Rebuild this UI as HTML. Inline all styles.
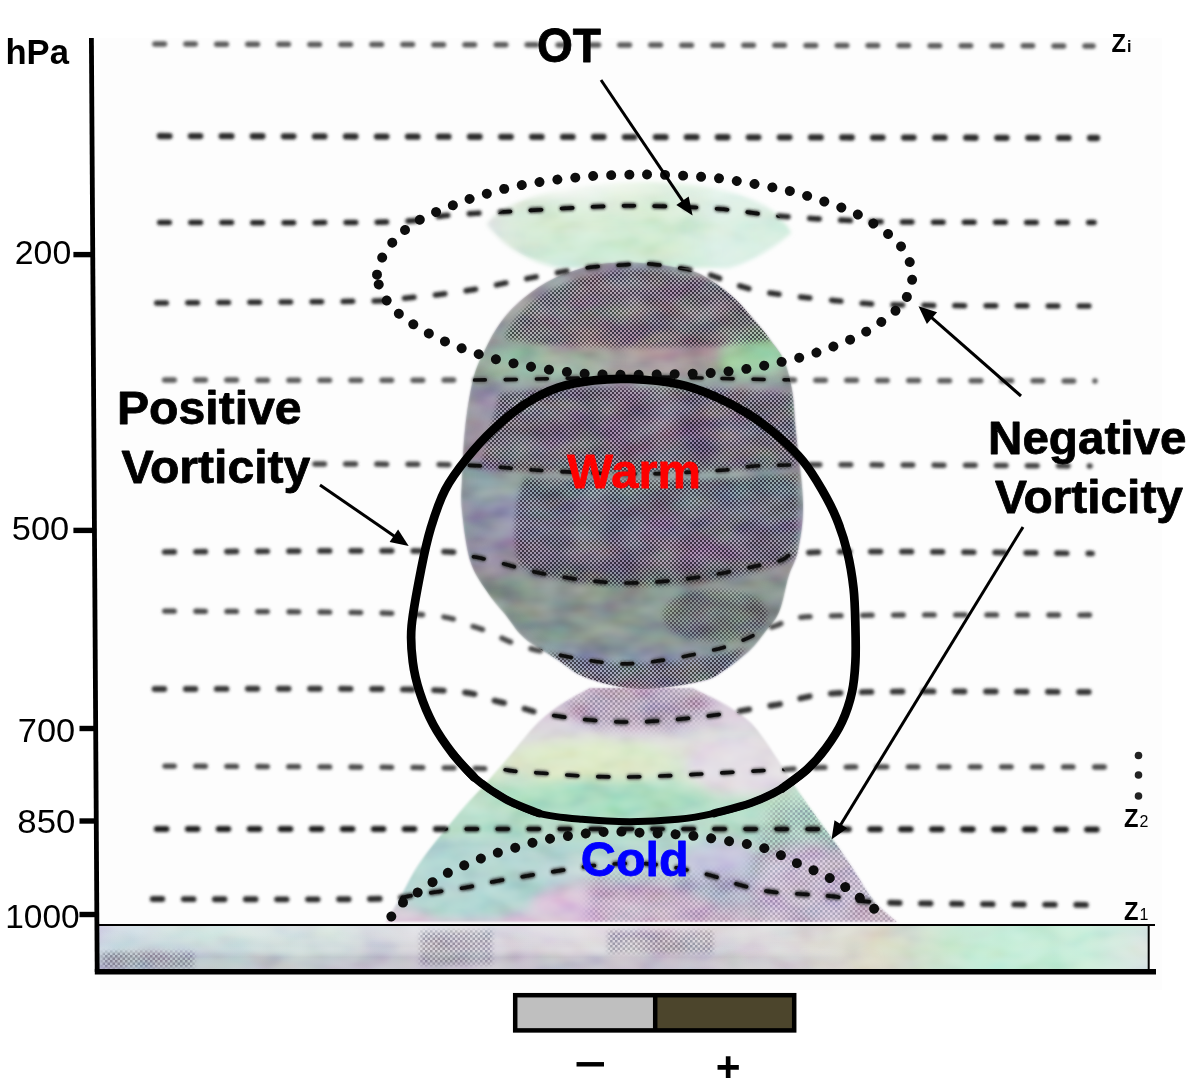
<!DOCTYPE html>
<html lang="en"><head><meta charset="utf-8"><title>Schematic vertical cross-section: vorticity, warm and cold core</title>
<style>
html,body{margin:0;padding:0;background:#fff;}
body{width:1198px;height:1083px;overflow:hidden;font-family:"Liberation Sans",sans-serif;}
svg{display:block;}
</style></head><body>
<svg width="1198" height="1083" viewBox="0 0 1198 1083">
<defs>
<filter id="bl" x="-5%" y="-300%" width="110%" height="700%"><feGaussianBlur stdDeviation="1.35"/></filter>
<filter id="bl2" x="-10%" y="-10%" width="120%" height="120%"><feGaussianBlur stdDeviation="2.2"/></filter>
<filter id="bl3" x="-20%" y="-20%" width="140%" height="140%"><feGaussianBlur stdDeviation="6"/></filter>
<filter id="bl1" x="-10%" y="-10%" width="120%" height="120%"><feGaussianBlur stdDeviation="1.2"/></filter>
<filter id="bl04" x="-10%" y="-10%" width="120%" height="120%"><feGaussianBlur stdDeviation="0.45"/></filter>
<filter id="noise" x="0" y="0" width="100%" height="100%" color-interpolation-filters="sRGB">
 <feTurbulence type="fractalNoise" baseFrequency="0.028 0.05" numOctaves="2" seed="11" result="t"/>
 <feColorMatrix in="t" type="saturate" values="0.35" result="ds"/>
 <feColorMatrix in="ds" type="matrix" values="1.9 0 0 0 -0.45  0 1.9 0 0 -0.45  0 0 1.9 0 -0.45  0 0 0 0 1" result="c"/>
 <feComposite in="c" in2="SourceGraphic" operator="in"/>
</filter>
<filter id="bl05" x="-10%" y="-10%" width="120%" height="120%"><feGaussianBlur stdDeviation="0.6"/></filter>
<pattern id="dith" width="4" height="4" patternUnits="userSpaceOnUse">
 <rect x="0" y="0" width="2" height="2" fill="#120f1c" fill-opacity=".66"/>
 <rect x="2" y="2" width="2" height="2" fill="#120f1c" fill-opacity=".66"/>
 <rect x="2" y="0" width="2" height="2" fill="#fff" fill-opacity=".10"/>
 <rect x="0" y="2" width="2" height="2" fill="#fff" fill-opacity=".10"/>
</pattern>
<pattern id="dithL" width="5" height="5" patternUnits="userSpaceOnUse">
 <rect x="0" y="0" width="2.5" height="2.5" fill="#2c2640" fill-opacity=".34"/>
 <rect x="2.5" y="2.5" width="2.5" height="2.5" fill="#2c2640" fill-opacity=".34"/>
</pattern>
<mask id="htMask" maskUnits="userSpaceOnUse" x="440" y="250" width="400" height="460">
 <rect x="440" y="250" width="400" height="460" fill="#000"/>
 <g filter="url(#bl2)">
  <path d="M505,338 C520,296 580,270 640,270 C700,270 758,294 776,338 C740,350 545,350 505,338 Z" fill="#fff"/>
  <path d="M500,394 C560,386 720,386 792,394 L797,466 C740,474 540,474 480,468 Z" fill="#fff"/>
  <path d="M525,478 C580,482 720,482 797,474 L797,556 C760,576 700,586 625,586 C580,584 545,578 520,566 C512,540 514,500 525,478 Z" fill="#fff"/>
  <path d="M548,652 C600,668 680,668 745,648 L722,678 C680,692 600,692 572,678 Z" fill="#fff"/>
  <ellipse cx="715" cy="615" rx="52" ry="26" fill="#bbb"/>
 </g>
</mask>
<mask id="coneMask" maskUnits="userSpaceOnUse" x="370" y="680" width="540" height="250">
 <rect x="370" y="680" width="540" height="250" fill="#000"/>
 <g filter="url(#bl3)">
  <ellipse cx="640" cy="706" rx="70" ry="20" fill="#fff"/>
  <path d="M775,800 L905,800 L905,925 L745,925 L745,880 Z" fill="#ccc"/>
  <rect x="590" y="876" width="150" height="48" fill="#bbb"/>
 </g>
</mask>
<linearGradient id="gvFade" x1="0" y1="0" x2="1" y2="0">
 <stop offset="0" stop-color="#fff"/><stop offset=".55" stop-color="#fff"/><stop offset=".75" stop-color="#000"/><stop offset="1" stop-color="#000"/>
</linearGradient>
<mask id="gvMask" maskUnits="userSpaceOnUse" x="90" y="920" width="1070" height="55"><rect x="97" y="920" width="1052" height="55" fill="url(#gvFade)"/></mask>
<mask id="groundMask" maskUnits="userSpaceOnUse" x="90" y="920" width="1070" height="55">
 <rect x="90" y="920" width="1070" height="55" fill="#000"/>
 <g filter="url(#bl2)">
  <rect x="102" y="952" width="92" height="16" fill="#fff"/>
  <rect x="420" y="931" width="72" height="34" fill="#fff"/>
  <rect x="608" y="931" width="105" height="22" fill="#fff"/>
 </g>
</mask>
<linearGradient id="bodyG" gradientUnits="userSpaceOnUse" x1="0" y1="263" x2="0" y2="689">
 <stop offset="0" stop-color="#a39fad"/>
 <stop offset=".10" stop-color="#a697a6"/>
 <stop offset=".17" stop-color="#a3a3a6"/>
 <stop offset=".21" stop-color="#94ad9e"/>
 <stop offset=".27" stop-color="#97aba2"/>
 <stop offset=".31" stop-color="#9b96a6"/>
 <stop offset=".45" stop-color="#9c93a5"/>
 <stop offset=".50" stop-color="#8f9fa0"/>
 <stop offset=".58" stop-color="#9094ab"/>
 <stop offset=".70" stop-color="#9a8ea5"/>
 <stop offset=".75" stop-color="#88928e"/>
 <stop offset=".88" stop-color="#8a9893"/>
 <stop offset=".94" stop-color="#8e96b0"/>
 <stop offset="1" stop-color="#b39fb8"/>
</linearGradient>
<linearGradient id="coneG" gradientUnits="userSpaceOnUse" x1="0" y1="688" x2="0" y2="922">
 <stop offset="0" stop-color="#cdbdd0"/>
 <stop offset=".14" stop-color="#dcd2de"/>
 <stop offset=".24" stop-color="#dcdfdb"/>
 <stop offset=".34" stop-color="#d6e6cd"/>
 <stop offset=".48" stop-color="#bfe0cb"/>
 <stop offset=".60" stop-color="#b5dccb"/>
 <stop offset=".72" stop-color="#bcd7d3"/>
 <stop offset=".90" stop-color="#c4cbd8"/>
 <stop offset="1" stop-color="#dcc4d6"/>
</linearGradient>
<linearGradient id="lensG" gradientUnits="userSpaceOnUse" x1="0" y1="178" x2="0" y2="272">
 <stop offset="0" stop-color="#f2f5f2" stop-opacity="0"/>
 <stop offset=".25" stop-color="#e0ede0" stop-opacity=".9"/>
 <stop offset=".5" stop-color="#d3ead2"/>
 <stop offset=".8" stop-color="#d2ebda"/>
 <stop offset="1" stop-color="#cde8df"/>
</linearGradient>
<linearGradient id="lensH" x1="0" y1="0" x2="1" y2="0">
 <stop offset="0" stop-color="#dfe3e4" stop-opacity=".9"/>
 <stop offset=".25" stop-color="#d6ecd0" stop-opacity=".0"/>
 <stop offset=".55" stop-color="#cfeacc" stop-opacity=".5"/>
 <stop offset=".75" stop-color="#dff1ea" stop-opacity=".7"/>
 <stop offset="1" stop-color="#d3ede4" stop-opacity=".6"/>
</linearGradient>
<linearGradient id="groundG" x1="0" y1="0" x2="1" y2="0">
 <stop offset="0" stop-color="#c9d2e0"/>
 <stop offset=".10" stop-color="#cbdfdc"/>
 <stop offset=".22" stop-color="#d2dedd"/>
 <stop offset=".32" stop-color="#d6d2dc"/>
 <stop offset=".45" stop-color="#dad6dd"/>
 <stop offset=".55" stop-color="#d8cfd9"/>
 <stop offset=".66" stop-color="#dbdada"/>
 <stop offset=".74" stop-color="#dcd9c9"/>
 <stop offset=".84" stop-color="#c4ecd7"/>
 <stop offset=".94" stop-color="#c9edda"/>
 <stop offset="1" stop-color="#dbe4e2"/>
</linearGradient>
<linearGradient id="groundV" x1="0" y1="0" x2="0" y2="1">
 <stop offset="0" stop-color="#fff" stop-opacity=".25"/>
 <stop offset=".45" stop-color="#fff" stop-opacity="0"/>
 <stop offset=".7" stop-color="#9c98a8" stop-opacity=".30"/>
 <stop offset="1" stop-color="#b4b0c0" stop-opacity=".45"/>
</linearGradient>
<clipPath id="bodyClip"><path d="M640.0,263.0 C655.3,263.8 676.0,267.0 688.0,270.0 C700.0,273.0 704.2,276.2 712.0,281.0 C719.8,285.8 727.8,292.3 735.0,299.0 C742.2,305.7 749.0,314.0 755.0,321.0 C761.0,328.0 766.2,334.3 771.0,341.0 C775.8,347.7 780.5,352.8 784.0,361.0 C787.5,369.2 790.0,378.2 792.0,390.0 C794.0,401.8 794.2,413.0 796.0,432.0 C797.8,451.0 802.7,484.3 803.0,504.0 C803.3,523.7 800.4,538.0 798.0,550.0 C795.6,562.0 791.7,565.7 788.5,576.0 C785.3,586.3 782.9,602.7 779.0,612.0 C775.1,621.3 769.8,625.7 765.0,632.0 C760.2,638.3 756.5,643.8 750.0,650.0 C743.5,656.2 734.0,663.8 726.0,669.0 C718.0,674.2 716.3,677.7 702.0,681.0 C687.7,684.3 659.2,689.5 640.0,689.0 C620.8,688.5 600.7,682.8 587.0,678.0 C573.3,673.2 568.4,666.7 558.0,660.0 C547.6,653.3 533.3,645.7 524.5,638.0 C515.7,630.3 511.4,622.0 505.0,614.0 C498.6,606.0 491.8,599.0 486.0,590.0 C480.2,581.0 474.0,573.3 470.0,560.0 C466.0,546.7 463.3,523.3 462.0,510.0 C460.7,496.7 461.5,493.3 462.0,480.0 C462.5,466.7 463.2,446.7 465.0,430.0 C466.8,413.3 469.7,393.3 473.0,380.0 C476.3,366.7 480.3,359.7 485.0,350.0 C489.7,340.3 494.5,330.7 501.0,322.0 C507.5,313.3 515.0,305.3 524.0,298.0 C533.0,290.7 543.0,283.5 555.0,278.0 C567.0,272.5 581.8,267.5 596.0,265.0 C610.2,262.5 624.7,262.2 640.0,263.0Z"/></clipPath>
<clipPath id="coneClip"><path d="M590.0,688.0 C585.0,690.8 569.0,698.9 560.0,705.0 C551.0,711.1 544.0,716.5 536.0,724.5 C528.0,732.5 520.2,743.4 512.0,753.0 C503.8,762.6 494.8,773.2 487.0,782.0 C479.2,790.8 472.0,798.0 465.0,806.0 C458.0,814.0 451.0,822.7 445.0,830.0 C439.0,837.3 434.2,843.0 429.0,850.0 C423.8,857.0 418.8,864.0 414.0,872.0 C409.2,880.0 404.7,889.7 400.0,898.0 C395.3,906.3 388.3,918.0 386.0,922.0 L897.0,922.0 C893.2,918.5 881.0,909.3 874.0,901.0 C867.0,892.7 860.8,880.8 855.0,872.0 C849.2,863.2 844.3,855.7 839.0,848.0 C833.7,840.3 829.0,834.3 823.0,826.0 C817.0,817.7 809.7,807.7 803.0,798.0 C796.3,788.3 789.2,777.3 783.0,768.0 C776.8,758.7 771.5,749.7 766.0,742.0 C760.5,734.3 756.7,728.2 750.0,722.0 C743.3,715.8 735.7,710.7 726.0,705.0 C716.3,699.3 697.7,690.8 692.0,688.0 Z"/></clipPath>
</defs>
<rect width="1198" height="1083" fill="#fff"/>
<rect x="100" y="38" width="1062" height="952" fill="#fdfdfd"/>
<rect x="97" y="926" width="1052" height="44" fill="url(#groundG)"/>
<rect x="97" y="926" width="1052" height="44" fill="url(#groundV)" mask="url(#gvMask)"/>
<rect x="97" y="926" width="1052" height="44" fill="url(#dithL)" mask="url(#groundMask)"/>
<g filter="url(#bl1)">
<path d="M590.0,688.0 C585.0,690.8 569.0,698.9 560.0,705.0 C551.0,711.1 544.0,716.5 536.0,724.5 C528.0,732.5 520.2,743.4 512.0,753.0 C503.8,762.6 494.8,773.2 487.0,782.0 C479.2,790.8 472.0,798.0 465.0,806.0 C458.0,814.0 451.0,822.7 445.0,830.0 C439.0,837.3 434.2,843.0 429.0,850.0 C423.8,857.0 418.8,864.0 414.0,872.0 C409.2,880.0 404.7,889.7 400.0,898.0 C395.3,906.3 388.3,918.0 386.0,922.0 L897.0,922.0 C893.2,918.5 881.0,909.3 874.0,901.0 C867.0,892.7 860.8,880.8 855.0,872.0 C849.2,863.2 844.3,855.7 839.0,848.0 C833.7,840.3 829.0,834.3 823.0,826.0 C817.0,817.7 809.7,807.7 803.0,798.0 C796.3,788.3 789.2,777.3 783.0,768.0 C776.8,758.7 771.5,749.7 766.0,742.0 C760.5,734.3 756.7,728.2 750.0,722.0 C743.3,715.8 735.7,710.7 726.0,705.0 C716.3,699.3 697.7,690.8 692.0,688.0 Z" fill="url(#coneG)"/>
<g clip-path="url(#coneClip)">
<ellipse cx="640" cy="708" rx="85" ry="24" fill="#d2c2d6" filter="url(#bl3)"/>
<ellipse cx="590" cy="762" rx="80" ry="22" fill="#dde9c9" filter="url(#bl3)"/>
<ellipse cx="745" cy="765" rx="60" ry="30" fill="#e3dde4" filter="url(#bl3)"/>
<ellipse cx="600" cy="800" rx="110" ry="18" fill="#a9dcc0" filter="url(#bl3)"/>
<ellipse cx="470" cy="880" rx="80" ry="40" fill="#b3d6d2" filter="url(#bl3)"/>
<ellipse cx="620" cy="905" rx="90" ry="22" fill="#dcc4da" filter="url(#bl3)"/>
<ellipse cx="810" cy="885" rx="60" ry="42" fill="#dccde2" filter="url(#bl3)"/>
<ellipse cx="720" cy="870" rx="40" ry="30" fill="#c4c4dc" filter="url(#bl3)"/>
</g></g>
<g clip-path="url(#coneClip)">
<rect x="370" y="680" width="540" height="250" fill="url(#dithL)" mask="url(#coneMask)"/>
</g>
<g filter="url(#bl2)"><path d="M487,224 C505,200 560,184 640,182 C715,182 775,198 791,233 C770,250 750,262 728,268 L560,268 C530,262 505,248 487,224 Z" fill="url(#lensG)"/><path d="M487,224 C505,200 560,184 640,182 C715,182 775,198 791,233 C770,250 750,262 728,268 L560,268 C530,262 505,248 487,224 Z" fill="url(#lensH)"/></g>
<g filter="url(#bl1)">
<path d="M640.0,263.0 C655.3,263.8 676.0,267.0 688.0,270.0 C700.0,273.0 704.2,276.2 712.0,281.0 C719.8,285.8 727.8,292.3 735.0,299.0 C742.2,305.7 749.0,314.0 755.0,321.0 C761.0,328.0 766.2,334.3 771.0,341.0 C775.8,347.7 780.5,352.8 784.0,361.0 C787.5,369.2 790.0,378.2 792.0,390.0 C794.0,401.8 794.2,413.0 796.0,432.0 C797.8,451.0 802.7,484.3 803.0,504.0 C803.3,523.7 800.4,538.0 798.0,550.0 C795.6,562.0 791.7,565.7 788.5,576.0 C785.3,586.3 782.9,602.7 779.0,612.0 C775.1,621.3 769.8,625.7 765.0,632.0 C760.2,638.3 756.5,643.8 750.0,650.0 C743.5,656.2 734.0,663.8 726.0,669.0 C718.0,674.2 716.3,677.7 702.0,681.0 C687.7,684.3 659.2,689.5 640.0,689.0 C620.8,688.5 600.7,682.8 587.0,678.0 C573.3,673.2 568.4,666.7 558.0,660.0 C547.6,653.3 533.3,645.7 524.5,638.0 C515.7,630.3 511.4,622.0 505.0,614.0 C498.6,606.0 491.8,599.0 486.0,590.0 C480.2,581.0 474.0,573.3 470.0,560.0 C466.0,546.7 463.3,523.3 462.0,510.0 C460.7,496.7 461.5,493.3 462.0,480.0 C462.5,466.7 463.2,446.7 465.0,430.0 C466.8,413.3 469.7,393.3 473.0,380.0 C476.3,366.7 480.3,359.7 485.0,350.0 C489.7,340.3 494.5,330.7 501.0,322.0 C507.5,313.3 515.0,305.3 524.0,298.0 C533.0,290.7 543.0,283.5 555.0,278.0 C567.0,272.5 581.8,267.5 596.0,265.0 C610.2,262.5 624.7,262.2 640.0,263.0Z" fill="url(#bodyG)"/>
</g>
<g clip-path="url(#bodyClip)">
<ellipse cx="632" cy="476" rx="176" ry="218" fill="none" stroke="#8d9594" stroke-width="18" opacity=".55" filter="url(#bl3)"/>
<ellipse cx="640" cy="352" rx="100" ry="26" fill="#b98a9c" opacity=".55" filter="url(#bl3)"/>
<ellipse cx="650" cy="425" rx="100" ry="30" fill="#a585a8" opacity=".45" filter="url(#bl3)"/>
<ellipse cx="690" cy="540" rx="60" ry="30" fill="#b090b0" opacity=".45" filter="url(#bl3)"/>
<ellipse cx="545" cy="362" rx="70" ry="16" fill="#9dc3a8" opacity=".55" filter="url(#bl3)"/>
<ellipse cx="752" cy="356" rx="34" ry="20" fill="#9fd8a4" opacity=".8" filter="url(#bl3)"/>
<rect x="440" y="250" width="400" height="460" fill="url(#dith)" mask="url(#htMask)"/>
</g>
<g style="mix-blend-mode:soft-light" opacity=".42">
<path d="M640.0,263.0 C655.3,263.8 676.0,267.0 688.0,270.0 C700.0,273.0 704.2,276.2 712.0,281.0 C719.8,285.8 727.8,292.3 735.0,299.0 C742.2,305.7 749.0,314.0 755.0,321.0 C761.0,328.0 766.2,334.3 771.0,341.0 C775.8,347.7 780.5,352.8 784.0,361.0 C787.5,369.2 790.0,378.2 792.0,390.0 C794.0,401.8 794.2,413.0 796.0,432.0 C797.8,451.0 802.7,484.3 803.0,504.0 C803.3,523.7 800.4,538.0 798.0,550.0 C795.6,562.0 791.7,565.7 788.5,576.0 C785.3,586.3 782.9,602.7 779.0,612.0 C775.1,621.3 769.8,625.7 765.0,632.0 C760.2,638.3 756.5,643.8 750.0,650.0 C743.5,656.2 734.0,663.8 726.0,669.0 C718.0,674.2 716.3,677.7 702.0,681.0 C687.7,684.3 659.2,689.5 640.0,689.0 C620.8,688.5 600.7,682.8 587.0,678.0 C573.3,673.2 568.4,666.7 558.0,660.0 C547.6,653.3 533.3,645.7 524.5,638.0 C515.7,630.3 511.4,622.0 505.0,614.0 C498.6,606.0 491.8,599.0 486.0,590.0 C480.2,581.0 474.0,573.3 470.0,560.0 C466.0,546.7 463.3,523.3 462.0,510.0 C460.7,496.7 461.5,493.3 462.0,480.0 C462.5,466.7 463.2,446.7 465.0,430.0 C466.8,413.3 469.7,393.3 473.0,380.0 C476.3,366.7 480.3,359.7 485.0,350.0 C489.7,340.3 494.5,330.7 501.0,322.0 C507.5,313.3 515.0,305.3 524.0,298.0 C533.0,290.7 543.0,283.5 555.0,278.0 C567.0,272.5 581.8,267.5 596.0,265.0 C610.2,262.5 624.7,262.2 640.0,263.0Z" fill="#888" filter="url(#noise)"/>
<path d="M590.0,688.0 C585.0,690.8 569.0,698.9 560.0,705.0 C551.0,711.1 544.0,716.5 536.0,724.5 C528.0,732.5 520.2,743.4 512.0,753.0 C503.8,762.6 494.8,773.2 487.0,782.0 C479.2,790.8 472.0,798.0 465.0,806.0 C458.0,814.0 451.0,822.7 445.0,830.0 C439.0,837.3 434.2,843.0 429.0,850.0 C423.8,857.0 418.8,864.0 414.0,872.0 C409.2,880.0 404.7,889.7 400.0,898.0 C395.3,906.3 388.3,918.0 386.0,922.0 L897.0,922.0 C893.2,918.5 881.0,909.3 874.0,901.0 C867.0,892.7 860.8,880.8 855.0,872.0 C849.2,863.2 844.3,855.7 839.0,848.0 C833.7,840.3 829.0,834.3 823.0,826.0 C817.0,817.7 809.7,807.7 803.0,798.0 C796.3,788.3 789.2,777.3 783.0,768.0 C776.8,758.7 771.5,749.7 766.0,742.0 C760.5,734.3 756.7,728.2 750.0,722.0 C743.3,715.8 735.7,710.7 726.0,705.0 C716.3,699.3 697.7,690.8 692.0,688.0 Z" fill="#888" filter="url(#noise)"/>
<path d="M487,224 C505,200 560,184 640,182 C715,182 775,198 791,233 C770,250 750,262 728,268 L560,268 C530,262 505,248 487,224 Z" fill="#888" filter="url(#noise)"/>
<rect x="97" y="926" width="1052" height="44" fill="#888" filter="url(#noise)"/>
</g>
<g fill="none" stroke-dasharray="9.5 21.5" stroke-dashoffset="-5" stroke-linecap="round" filter="url(#bl)">
<path d="M150.0,44.0 C225.0,44.2 442.8,44.7 600.0,45.0 C757.2,45.3 1010.8,45.8 1093.0,46.0" stroke="#5a5a5a" stroke-width="5.5"/>
<path d="M155.0,136.0 C229.2,136.2 443.0,136.7 600.0,137.0 C757.0,137.3 1014.2,137.8 1097.0,138.0" stroke="#2c2c2c" stroke-width="6.3"/>
<path d="M155.0,222.5 C193.3,222.4 335.8,223.2 385.0,222.0 C434.2,220.8 427.5,216.8 450.0,215.0 C472.5,213.2 495.0,212.4 520.0,211.0 C545.0,209.6 578.3,207.3 600.0,206.5 C621.7,205.7 630.0,205.6 650.0,206.0 C670.0,206.4 698.7,207.3 720.0,209.0 C741.3,210.7 758.0,214.2 778.0,216.0 C798.0,217.8 819.7,219.0 840.0,220.0 C860.3,221.0 857.7,221.6 900.0,222.0 C942.3,222.4 1061.7,222.4 1094.0,222.5" stroke="#222" stroke-width="5.5"/>
<path d="M152.0,303.0 C188.3,302.7 328.3,301.8 370.0,301.0 C411.7,300.2 386.2,300.2 402.0,298.5 C417.8,296.8 444.5,294.2 465.0,291.0 C485.5,287.8 505.0,282.8 525.0,279.0 C545.0,275.2 568.7,270.3 585.0,268.0 C601.3,265.7 612.2,265.7 623.0,265.0 C633.8,264.3 637.2,262.8 650.0,264.0 C662.8,265.2 685.0,268.3 700.0,272.0 C715.0,275.7 728.3,282.5 740.0,286.0 C751.7,289.5 755.0,290.7 770.0,293.0 C785.0,295.3 808.3,298.0 830.0,300.0 C851.7,302.0 856.0,304.0 900.0,305.0 C944.0,306.0 1061.7,305.8 1094.0,306.0" stroke="#2c2c2c" stroke-width="5.5"/>
<path d="M160.0,380.0 C211.7,380.0 390.0,380.5 470.0,380.0 C550.0,379.5 585.0,377.0 640.0,377.0 C695.0,377.0 724.2,379.3 800.0,380.0 C875.8,380.7 1045.8,380.8 1095.0,381.0" stroke="#5c5c5c" stroke-width="5.5"/>
<path d="M310.0,464.0 C335.0,464.2 420.0,463.8 460.0,465.0 C500.0,466.2 520.0,469.5 550.0,471.0 C580.0,472.5 610.8,474.2 640.0,474.0 C669.2,473.8 700.0,471.5 725.0,470.0 C750.0,468.5 729.2,465.7 790.0,465.0 C850.8,464.3 1040.0,465.8 1090.0,466.0" stroke="#444" stroke-width="5.5"/>
<path d="M160.0,552.0 C203.3,551.8 367.5,550.2 420.0,551.0 C472.5,551.8 453.3,553.0 475.0,557.0 C496.7,561.0 525.0,570.7 550.0,575.0 C575.0,579.3 600.0,582.7 625.0,583.0 C650.0,583.3 675.0,580.5 700.0,577.0 C725.0,573.5 754.2,566.2 775.0,562.0 C795.8,557.8 772.2,553.4 825.0,552.0 C877.8,550.6 1047.5,553.2 1092.0,553.5" stroke="#363636" stroke-width="5.7"/>
<path d="M160.0,611.0 C201.7,611.5 357.5,611.3 410.0,614.0 C462.5,616.7 455.8,621.5 475.0,627.0 C494.2,632.5 504.2,641.2 525.0,647.0 C545.8,652.8 579.2,659.5 600.0,662.0 C620.8,664.5 629.2,664.5 650.0,662.0 C670.8,659.5 704.2,653.0 725.0,647.0 C745.8,641.0 758.3,631.2 775.0,626.0 C791.7,620.8 772.2,617.8 825.0,616.0 C877.8,614.2 1047.5,615.2 1092.0,615.0" stroke="#4a4a4a" stroke-width="5.3"/>
<path d="M150.0,689.0 C196.7,689.2 371.7,687.8 430.0,690.0 C488.3,692.2 480.0,697.8 500.0,702.0 C520.0,706.2 529.2,711.7 550.0,715.0 C570.8,718.3 600.0,721.7 625.0,722.0 C650.0,722.3 675.0,719.8 700.0,717.0 C725.0,714.2 750.0,709.1 775.0,705.0 C800.0,700.9 796.7,694.7 850.0,692.5 C903.3,690.3 1054.2,692.1 1095.0,692.0" stroke="#363636" stroke-width="5.9"/>
<path d="M160.0,766.0 C210.0,766.3 399.2,767.0 460.0,768.0 C520.8,769.0 497.5,770.5 525.0,772.0 C552.5,773.5 583.3,777.3 625.0,777.0 C666.7,776.7 737.5,771.7 775.0,770.0 C812.5,768.3 794.5,767.5 850.0,767.0 C905.5,766.5 1065.0,767.0 1108.0,767.0" stroke="#484848" stroke-width="5.3"/>
<path d="M152.0,829.0 C233.3,829.0 480.8,828.9 640.0,829.0 C799.2,829.1 1029.2,829.4 1107.0,829.5" stroke="#1e1e1e" stroke-width="6.1"/>
<path d="M148.0,899.0 C185.0,899.0 324.7,899.8 370.0,899.0 C415.3,898.2 404.2,895.9 420.0,894.0 C435.8,892.1 452.5,889.8 465.0,887.7 C477.5,885.6 485.2,883.3 495.0,881.4 C504.8,879.5 514.0,878.1 524.0,876.4 C534.0,874.7 542.3,873.3 555.0,871.4 C567.7,869.5 584.2,866.2 600.0,865.0 C615.8,863.8 632.5,862.5 650.0,864.0 C667.5,865.5 690.0,870.5 705.0,874.0 C720.0,877.5 729.5,882.1 740.0,885.0 C750.5,887.9 758.0,889.9 768.0,891.4 C778.0,892.9 789.2,893.2 800.0,894.0 C810.8,894.8 818.0,894.9 833.0,896.4 C848.0,897.9 845.8,901.3 890.0,902.7 C934.2,904.1 1063.3,904.6 1098.0,905.0" stroke="#2c2c2c" stroke-width="5.9"/>
</g>
<clipPath id="inkClip"><path d="M640.0,263.0 C655.3,263.8 676.0,267.0 688.0,270.0 C700.0,273.0 704.2,276.2 712.0,281.0 C719.8,285.8 727.8,292.3 735.0,299.0 C742.2,305.7 749.0,314.0 755.0,321.0 C761.0,328.0 766.2,334.3 771.0,341.0 C775.8,347.7 780.5,352.8 784.0,361.0 C787.5,369.2 790.0,378.2 792.0,390.0 C794.0,401.8 794.2,413.0 796.0,432.0 C797.8,451.0 802.7,484.3 803.0,504.0 C803.3,523.7 800.4,538.0 798.0,550.0 C795.6,562.0 791.7,565.7 788.5,576.0 C785.3,586.3 782.9,602.7 779.0,612.0 C775.1,621.3 769.8,625.7 765.0,632.0 C760.2,638.3 756.5,643.8 750.0,650.0 C743.5,656.2 734.0,663.8 726.0,669.0 C718.0,674.2 716.3,677.7 702.0,681.0 C687.7,684.3 659.2,689.5 640.0,689.0 C620.8,688.5 600.7,682.8 587.0,678.0 C573.3,673.2 568.4,666.7 558.0,660.0 C547.6,653.3 533.3,645.7 524.5,638.0 C515.7,630.3 511.4,622.0 505.0,614.0 C498.6,606.0 491.8,599.0 486.0,590.0 C480.2,581.0 474.0,573.3 470.0,560.0 C466.0,546.7 463.3,523.3 462.0,510.0 C460.7,496.7 461.5,493.3 462.0,480.0 C462.5,466.7 463.2,446.7 465.0,430.0 C466.8,413.3 469.7,393.3 473.0,380.0 C476.3,366.7 480.3,359.7 485.0,350.0 C489.7,340.3 494.5,330.7 501.0,322.0 C507.5,313.3 515.0,305.3 524.0,298.0 C533.0,290.7 543.0,283.5 555.0,278.0 C567.0,272.5 581.8,267.5 596.0,265.0 C610.2,262.5 624.7,262.2 640.0,263.0Z"/><path d="M590.0,688.0 C585.0,690.8 569.0,698.9 560.0,705.0 C551.0,711.1 544.0,716.5 536.0,724.5 C528.0,732.5 520.2,743.4 512.0,753.0 C503.8,762.6 494.8,773.2 487.0,782.0 C479.2,790.8 472.0,798.0 465.0,806.0 C458.0,814.0 451.0,822.7 445.0,830.0 C439.0,837.3 434.2,843.0 429.0,850.0 C423.8,857.0 418.8,864.0 414.0,872.0 C409.2,880.0 404.7,889.7 400.0,898.0 C395.3,906.3 388.3,918.0 386.0,922.0 L897.0,922.0 C893.2,918.5 881.0,909.3 874.0,901.0 C867.0,892.7 860.8,880.8 855.0,872.0 C849.2,863.2 844.3,855.7 839.0,848.0 C833.7,840.3 829.0,834.3 823.0,826.0 C817.0,817.7 809.7,807.7 803.0,798.0 C796.3,788.3 789.2,777.3 783.0,768.0 C776.8,758.7 771.5,749.7 766.0,742.0 C760.5,734.3 756.7,728.2 750.0,722.0 C743.3,715.8 735.7,710.7 726.0,705.0 C716.3,699.3 697.7,690.8 692.0,688.0 Z"/><path d="M487,224 C505,200 560,184 640,182 C715,182 775,198 791,233 C770,250 750,262 728,268 L560,268 C530,262 505,248 487,224 Z"/></clipPath>
<g fill="none" stroke="#0c0c0c" stroke-width="3.6" stroke-dasharray="11 20" stroke-dashoffset="-4.2" stroke-linecap="round" clip-path="url(#inkClip)" filter="url(#bl04)">
<path d="M155.0,222.5 C193.3,222.4 335.8,223.2 385.0,222.0 C434.2,220.8 427.5,216.8 450.0,215.0 C472.5,213.2 495.0,212.4 520.0,211.0 C545.0,209.6 578.3,207.3 600.0,206.5 C621.7,205.7 630.0,205.6 650.0,206.0 C670.0,206.4 698.7,207.3 720.0,209.0 C741.3,210.7 758.0,214.2 778.0,216.0 C798.0,217.8 819.7,219.0 840.0,220.0 C860.3,221.0 857.7,221.6 900.0,222.0 C942.3,222.4 1061.7,222.4 1094.0,222.5"/>
<path d="M152.0,303.0 C188.3,302.7 328.3,301.8 370.0,301.0 C411.7,300.2 386.2,300.2 402.0,298.5 C417.8,296.8 444.5,294.2 465.0,291.0 C485.5,287.8 505.0,282.8 525.0,279.0 C545.0,275.2 568.7,270.3 585.0,268.0 C601.3,265.7 612.2,265.7 623.0,265.0 C633.8,264.3 637.2,262.8 650.0,264.0 C662.8,265.2 685.0,268.3 700.0,272.0 C715.0,275.7 728.3,282.5 740.0,286.0 C751.7,289.5 755.0,290.7 770.0,293.0 C785.0,295.3 808.3,298.0 830.0,300.0 C851.7,302.0 856.0,304.0 900.0,305.0 C944.0,306.0 1061.7,305.8 1094.0,306.0"/>
<path d="M160.0,380.0 C211.7,380.0 390.0,380.5 470.0,380.0 C550.0,379.5 585.0,377.0 640.0,377.0 C695.0,377.0 724.2,379.3 800.0,380.0 C875.8,380.7 1045.8,380.8 1095.0,381.0"/>
<path d="M310.0,464.0 C335.0,464.2 420.0,463.8 460.0,465.0 C500.0,466.2 520.0,469.5 550.0,471.0 C580.0,472.5 610.8,474.2 640.0,474.0 C669.2,473.8 700.0,471.5 725.0,470.0 C750.0,468.5 729.2,465.7 790.0,465.0 C850.8,464.3 1040.0,465.8 1090.0,466.0"/>
<path d="M160.0,552.0 C203.3,551.8 367.5,550.2 420.0,551.0 C472.5,551.8 453.3,553.0 475.0,557.0 C496.7,561.0 525.0,570.7 550.0,575.0 C575.0,579.3 600.0,582.7 625.0,583.0 C650.0,583.3 675.0,580.5 700.0,577.0 C725.0,573.5 754.2,566.2 775.0,562.0 C795.8,557.8 772.2,553.4 825.0,552.0 C877.8,550.6 1047.5,553.2 1092.0,553.5"/>
<path d="M160.0,611.0 C201.7,611.5 357.5,611.3 410.0,614.0 C462.5,616.7 455.8,621.5 475.0,627.0 C494.2,632.5 504.2,641.2 525.0,647.0 C545.8,652.8 579.2,659.5 600.0,662.0 C620.8,664.5 629.2,664.5 650.0,662.0 C670.8,659.5 704.2,653.0 725.0,647.0 C745.8,641.0 758.3,631.2 775.0,626.0 C791.7,620.8 772.2,617.8 825.0,616.0 C877.8,614.2 1047.5,615.2 1092.0,615.0"/>
<path d="M150.0,689.0 C196.7,689.2 371.7,687.8 430.0,690.0 C488.3,692.2 480.0,697.8 500.0,702.0 C520.0,706.2 529.2,711.7 550.0,715.0 C570.8,718.3 600.0,721.7 625.0,722.0 C650.0,722.3 675.0,719.8 700.0,717.0 C725.0,714.2 750.0,709.1 775.0,705.0 C800.0,700.9 796.7,694.7 850.0,692.5 C903.3,690.3 1054.2,692.1 1095.0,692.0"/>
<path d="M160.0,766.0 C210.0,766.3 399.2,767.0 460.0,768.0 C520.8,769.0 497.5,770.5 525.0,772.0 C552.5,773.5 583.3,777.3 625.0,777.0 C666.7,776.7 737.5,771.7 775.0,770.0 C812.5,768.3 794.5,767.5 850.0,767.0 C905.5,766.5 1065.0,767.0 1108.0,767.0"/>
<path d="M152.0,829.0 C233.3,829.0 480.8,828.9 640.0,829.0 C799.2,829.1 1029.2,829.4 1107.0,829.5"/>
<path d="M148.0,899.0 C185.0,899.0 324.7,899.8 370.0,899.0 C415.3,898.2 404.2,895.9 420.0,894.0 C435.8,892.1 452.5,889.8 465.0,887.7 C477.5,885.6 485.2,883.3 495.0,881.4 C504.8,879.5 514.0,878.1 524.0,876.4 C534.0,874.7 542.3,873.3 555.0,871.4 C567.7,869.5 584.2,866.2 600.0,865.0 C615.8,863.8 632.5,862.5 650.0,864.0 C667.5,865.5 690.0,870.5 705.0,874.0 C720.0,877.5 729.5,882.1 740.0,885.0 C750.5,887.9 758.0,889.9 768.0,891.4 C778.0,892.9 789.2,893.2 800.0,894.0 C810.8,894.8 818.0,894.9 833.0,896.4 C848.0,897.9 845.8,901.3 890.0,902.7 C934.2,904.1 1063.3,904.6 1098.0,905.0"/>
</g>
<g fill="none" stroke="#0a0a0a" stroke-width="9.9" stroke-linecap="round" stroke-dasharray="0.1 17.9" filter="url(#bl05)">
<path d="M377.0,274.7 C377.0,268.9 379.5,263.3 382.0,258.0 C384.5,252.7 388.2,247.7 392.0,243.0 C395.8,238.3 400.4,233.8 405.0,230.0 C409.6,226.2 414.2,223.0 419.4,220.0 C424.6,217.0 430.5,214.5 436.4,211.9 C442.3,209.3 448.9,206.9 454.7,204.6 C460.5,202.3 465.6,200.2 471.4,198.3 C477.2,196.4 483.4,194.7 489.5,193.0 C495.6,191.3 501.7,189.4 507.8,188.0 C513.9,186.6 519.9,185.4 526.0,184.3 C532.1,183.2 538.3,182.2 544.6,181.3 C550.9,180.4 557.4,179.5 563.6,178.8 C569.8,178.1 575.6,177.6 581.6,177.0 C587.6,176.4 593.6,175.8 599.7,175.5 C605.8,175.2 612.0,175.2 618.0,175.0 C624.0,174.8 630.1,174.6 635.5,174.5 C640.9,174.4 645.1,174.4 650.5,174.5 C655.9,174.6 662.0,174.8 668.0,175.0 C674.0,175.2 680.2,175.5 686.3,175.8 C692.4,176.1 698.5,176.5 704.6,177.0 C710.7,177.5 716.9,178.0 723.0,178.8 C729.1,179.6 735.2,180.8 741.4,181.8 C747.6,182.8 753.9,183.8 760.2,185.0 C766.5,186.2 773.0,187.5 779.0,188.8 C785.0,190.1 790.6,191.0 796.5,192.6 C802.4,194.2 808.6,196.4 814.6,198.3 C820.6,200.2 826.4,202.2 832.3,204.3 C838.2,206.4 844.3,208.5 849.9,210.9 C855.5,213.3 860.8,215.9 866.0,218.9 C871.2,221.9 876.0,225.3 881.0,228.9 C886.0,232.5 891.7,236.3 896.0,240.7 C900.3,245.1 904.0,249.9 906.7,255.2 C909.4,260.5 911.7,266.8 912.2,272.7 C912.7,278.6 911.7,285.2 909.7,290.7 C907.8,296.2 904.3,301.3 900.5,305.8 C896.7,310.3 891.5,314.1 886.7,317.8 C881.9,321.6 876.9,325.1 871.7,328.3 C866.5,331.6 861.0,334.6 855.4,337.3 C849.8,340.0 844.1,342.3 838.3,344.6 C832.5,346.9 826.6,349.1 820.8,351.1 C815.0,353.1 809.3,354.9 803.3,356.6 C797.3,358.3 790.7,359.7 784.8,361.1 C778.9,362.5 773.6,363.7 767.7,364.9 C761.8,366.1 755.6,367.4 749.4,368.4 C743.2,369.4 736.8,370.4 730.7,371.1 C724.6,371.9 718.8,372.5 712.6,372.9 C706.5,373.3 700.1,373.4 693.8,373.6 C687.5,373.8 681.5,374.0 675.0,374.1 C668.5,374.2 661.7,374.4 655.0,374.5 C648.3,374.6 641.7,374.8 635.0,374.8 C628.3,374.8 621.3,374.7 615.0,374.6 C608.7,374.5 602.8,374.4 597.0,374.2 C591.2,374.0 585.9,373.8 580.4,373.4 C574.9,373.0 569.9,372.3 564.0,371.6 C558.1,370.9 551.5,370.1 545.3,369.1 C539.0,368.2 532.5,367.0 526.5,365.9 C520.5,364.8 515.0,363.7 509.0,362.4 C503.0,361.1 496.7,359.6 490.7,357.9 C484.7,356.2 479.1,354.3 473.2,352.3 C467.3,350.3 461.0,348.1 455.2,345.8 C449.4,343.5 443.9,341.0 438.4,338.3 C432.8,335.6 427.2,332.7 421.9,329.6 C416.5,326.5 411.2,323.1 406.3,319.5 C401.4,315.9 396.7,312.3 392.6,307.8 C388.6,303.3 384.6,298.2 382.0,292.7 C379.4,287.2 377.0,280.5 377.0,274.7Z"/>
<path d="M391.3,916.5 C393.5,914.0 399.6,905.6 404.3,901.4 C409.0,897.2 414.2,894.9 419.3,891.4 C424.4,887.9 429.8,883.9 435.0,880.6 C440.2,877.3 445.2,874.2 450.6,871.4 C456.1,868.6 462.0,866.3 467.7,863.9 C473.4,861.5 478.9,859.2 484.7,857.1 C490.4,855.0 496.3,853.1 502.2,851.3 C508.1,849.5 514.4,848.0 520.3,846.3 C526.2,844.6 531.8,842.8 537.8,841.3 C543.8,839.8 550.3,838.6 556.6,837.6 C562.9,836.6 569.3,835.8 575.4,835.0 C581.5,834.2 587.2,833.1 593.0,832.6 C598.8,832.1 604.6,831.9 610.4,831.8 C616.2,831.7 621.8,831.5 628.0,831.8 C634.2,832.0 641.1,833.0 647.5,833.3 C653.9,833.6 660.0,833.5 666.3,833.8 C672.5,834.1 679.0,834.5 685.0,835.0 C691.0,835.5 696.5,836.2 702.6,837.0 C708.7,837.8 715.1,839.0 721.4,840.0 C727.7,841.0 734.0,842.0 740.2,843.0 C746.4,844.0 752.5,844.6 758.5,846.3 C764.5,848.0 770.8,850.5 776.5,853.0 C782.2,855.5 787.2,858.8 792.8,861.4 C798.4,864.0 804.7,866.4 810.3,868.9 C815.9,871.4 821.2,873.7 826.6,876.4 C832.0,879.1 837.2,881.9 842.4,885.2 C847.6,888.5 852.8,892.6 857.9,896.4 C863.0,900.1 868.7,904.2 872.9,907.7 C877.1,911.2 881.3,916.0 883.0,917.7"/>
</g>
<circle cx="1138.5" cy="755.5" r="3.8" fill="#222" filter="url(#bl05)"/>
<circle cx="1138.5" cy="775.0" r="3.8" fill="#222" filter="url(#bl05)"/>
<circle cx="1138.5" cy="796.0" r="3.8" fill="#222" filter="url(#bl05)"/>
<g filter="url(#bl04)">
<path d="M630.0,379.0 C644.0,379.6 664.0,381.2 678.0,384.0 C692.0,386.8 702.0,390.8 714.0,396.0 C726.0,401.2 739.2,408.2 750.0,415.0 C760.8,421.8 770.2,429.3 779.0,437.0 C787.8,444.7 795.8,452.2 803.0,461.0 C810.2,469.8 816.4,480.1 822.0,489.7 C827.6,499.3 832.3,508.1 836.5,518.5 C840.7,528.9 844.5,540.4 847.3,552.0 C850.1,563.6 852.1,575.7 853.5,588.0 C854.9,600.3 855.1,613.7 855.4,626.0 C855.7,638.3 856.0,651.0 855.4,662.0 C854.8,673.0 854.2,682.0 852.0,692.0 C849.8,702.0 846.3,712.7 842.0,722.0 C837.7,731.3 831.8,740.1 826.0,748.0 C820.2,755.9 814.3,762.8 807.0,769.5 C799.7,776.2 791.3,782.9 782.0,788.5 C772.7,794.1 762.3,798.9 751.0,803.0 C739.7,807.1 726.2,810.6 714.0,813.3 C701.8,816.0 692.0,817.9 678.0,819.3 C664.0,820.7 646.0,821.7 630.0,821.7 C614.0,821.7 597.2,820.7 582.0,819.3 C566.8,817.9 551.7,816.7 538.9,813.3 C526.1,809.9 516.0,804.9 505.2,798.9 C494.4,792.9 482.8,784.9 474.0,777.3 C465.2,769.7 459.2,762.1 452.4,753.3 C445.6,744.5 438.6,734.5 433.2,724.5 C427.8,714.5 423.4,703.6 420.0,693.2 C416.6,682.8 414.2,673.2 412.8,662.0 C411.4,650.8 410.2,641.5 411.6,626.0 C413.0,610.5 418.0,585.2 421.2,568.9 C424.4,552.6 426.8,541.2 430.8,528.0 C434.8,514.8 439.2,501.3 445.2,489.7 C451.2,478.1 458.8,468.4 466.8,458.4 C474.8,448.4 483.6,438.6 493.2,429.6 C502.8,420.6 513.7,411.4 524.5,404.4 C535.3,397.4 546.4,391.6 558.0,387.6 C569.6,383.6 582.0,381.8 594.0,380.4 C606.0,379.0 616.0,378.4 630.0,379.0Z" fill="none" stroke="#000" stroke-width="7.0"/>
<path d="M474.0,777.3 C470.4,773.3 459.2,762.1 452.4,753.3 C445.6,744.5 438.6,734.5 433.2,724.5 C427.8,714.5 423.4,703.6 420.0,693.2 C416.6,682.8 414.2,673.2 412.8,662.0 C411.4,650.8 410.2,641.5 411.6,626.0 C413.0,610.5 418.0,585.2 421.2,568.9 C424.4,552.6 426.8,541.2 430.8,528.0 C434.8,514.8 439.2,501.3 445.2,489.7 C451.2,478.1 458.8,468.4 466.8,458.4 C474.8,448.4 483.6,438.6 493.2,429.6 C502.8,420.6 513.7,411.4 524.5,404.4 C535.3,397.4 546.4,391.6 558.0,387.6 C569.6,383.6 582.0,381.8 594.0,380.4 C606.0,379.0 616.0,378.4 630.0,379.0 C644.0,379.6 664.0,381.2 678.0,384.0 C692.0,386.8 702.0,390.8 714.0,396.0 C726.0,401.2 739.2,408.2 750.0,415.0 C760.8,421.8 770.2,429.3 779.0,437.0 C787.8,444.7 795.8,452.2 803.0,461.0 C810.2,469.8 816.4,480.1 822.0,489.7 C827.6,499.3 832.3,508.1 836.5,518.5 C840.7,528.9 844.5,540.4 847.3,552.0 C850.1,563.6 852.1,575.7 853.5,588.0 C854.9,600.3 855.1,613.7 855.4,626.0 C855.7,638.3 856.0,651.0 855.4,662.0 C854.8,673.0 854.2,682.0 852.0,692.0 C849.8,702.0 846.3,712.7 842.0,722.0 C837.7,731.3 831.8,740.1 826.0,748.0 C820.2,755.9 814.3,762.8 807.0,769.5 C799.7,776.2 786.2,785.3 782.0,788.5" fill="none" stroke="#000" stroke-width="8.7" stroke-linecap="round"/>
<path d="M807.0,769.5 C802.8,772.7 791.3,782.9 782.0,788.5 C772.7,794.1 762.3,798.9 751.0,803.0 C739.7,807.1 720.2,811.6 714.0,813.3" fill="none" stroke="#000" stroke-width="8.0" stroke-linecap="round"/>
<path d="M538.9,813.3 C533.3,810.9 516.0,804.9 505.2,798.9 C494.4,792.9 482.8,784.9 474.0,777.3 C465.2,769.7 456.0,757.3 452.4,753.3" fill="none" stroke="#000" stroke-width="8.0" stroke-linecap="round"/>
</g>
<path d="M91.4,38 L97.2,972" stroke="#000" stroke-width="4.8" fill="none"/>
<path d="M94.8,971.8 L1156,971.8" stroke="#000" stroke-width="5.4" fill="none"/>
<path d="M97,925 L1155,925" stroke="#000" stroke-width="2" fill="none"/>
<path d="M1148.7,925 L1148.7,971" stroke="#000" stroke-width="2" fill="none"/>
<path d="M73.4,254.6 L92.0,254.6" stroke="#000" stroke-width="5.4"/>
<path d="M73.4,530.4 L94.0,530.4" stroke="#000" stroke-width="5.4"/>
<path d="M79.5,728.5 L95.0,728.5" stroke="#000" stroke-width="5.4"/>
<path d="M79.5,821.0 L96.0,821.0" stroke="#000" stroke-width="5.4"/>
<path d="M79.5,914.5 L97.0,914.5" stroke="#000" stroke-width="5.4"/>
<path d="M601.0,80.0 L683.6,202.3" stroke="#000" stroke-width="3.0" fill="none"/><path d="M692.6,215.6 L676.3,204.9 L688.7,196.5 Z" fill="#000"/>
<path d="M320.0,485.0 L395.5,536.9" stroke="#000" stroke-width="3.0" fill="none"/><path d="M408.7,546.0 L389.6,542.0 L398.1,529.6 Z" fill="#000"/>
<path d="M1021.0,396.0 L930.5,316.7" stroke="#000" stroke-width="3.0" fill="none"/><path d="M918.5,306.2 L937.1,312.2 L926.9,323.9 Z" fill="#000"/>
<path d="M1023.0,527.0 L839.9,826.0" stroke="#000" stroke-width="3.0" fill="none"/><path d="M831.5,839.6 L834.5,820.3 L847.3,828.2 Z" fill="#000"/>
<g font-family="'Liberation Sans', sans-serif" font-weight="bold" font-size="47" fill="#000" stroke="#000" stroke-width="0.8" stroke-linejoin="round">
<text x="537" y="62" font-size="48.5" textLength="64" lengthAdjust="spacingAndGlyphs">OT</text>
<text x="117" y="424.2" textLength="184.6" lengthAdjust="spacingAndGlyphs">Positive</text>
<text x="121.4" y="482.5" textLength="189" lengthAdjust="spacingAndGlyphs">Vorticity</text>
<text x="988" y="453.8" textLength="198.5" lengthAdjust="spacingAndGlyphs">Negative</text>
<text x="995" y="512.5" textLength="188" lengthAdjust="spacingAndGlyphs">Vorticity</text>
<text x="567" y="487.8" font-size="48.5" textLength="134" lengthAdjust="spacingAndGlyphs" fill="#ff0000" stroke="#ff0000">Warm</text>
<text x="580.8" y="875.6" font-size="48.5" textLength="108" lengthAdjust="spacingAndGlyphs" fill="#0000ff" stroke="#0000ff">Cold</text>
</g>
<g font-family="'Liberation Sans', sans-serif" fill="#000">
<text x="5.4" y="64.2" font-weight="bold" font-size="35" textLength="63.5" lengthAdjust="spacingAndGlyphs">hPa</text>
<text x="14.8" y="264.0" font-size="33" textLength="56.4" lengthAdjust="spacingAndGlyphs">200</text>
<text x="11.8" y="539.7" font-size="33" textLength="57.4" lengthAdjust="spacingAndGlyphs">500</text>
<text x="17.8" y="742.0" font-size="33" textLength="57.4" lengthAdjust="spacingAndGlyphs">700</text>
<text x="17.3" y="833.2" font-size="33" textLength="58.0" lengthAdjust="spacingAndGlyphs">850</text>
<text x="5.2" y="928.0" font-size="33" textLength="74.5" lengthAdjust="spacingAndGlyphs">1000</text>
<text x="1111.5" y="52.0" font-weight="bold" font-size="25" textLength="14.5" lengthAdjust="spacingAndGlyphs">Z</text>
<text x="1127.0" y="52.0" font-size="16" font-weight="bold">i</text>
<text x="1124.0" y="826.6" font-weight="bold" font-size="25" textLength="14.5" lengthAdjust="spacingAndGlyphs">Z</text>
<text x="1139.5" y="826.6" font-size="16">2</text>
<text x="1124.0" y="919.7" font-weight="bold" font-size="25" textLength="14.5" lengthAdjust="spacingAndGlyphs">Z</text>
<text x="1139.5" y="919.7" font-size="16">1</text>
</g>
<rect x="515.2" y="995.2" width="140" height="35.2" fill="#bfbfbf"/>
<rect x="655.2" y="995.2" width="139" height="35.2" fill="#4c452c"/>
<rect x="515.2" y="995.2" width="279" height="35.2" fill="none" stroke="#000" stroke-width="4.5"/>
<path d="M655.2,995 L655.2,1030" stroke="#000" stroke-width="4.5"/>
<g font-family="'Liberation Sans', sans-serif" font-weight="bold" fill="#000">
<text x="590.4" y="1077.6" font-size="41" text-anchor="middle" textLength="32" lengthAdjust="spacingAndGlyphs">−</text>
<text x="728.2" y="1081.2" font-size="42.5" text-anchor="middle">+</text>
</g>
</svg>
</body></html>
